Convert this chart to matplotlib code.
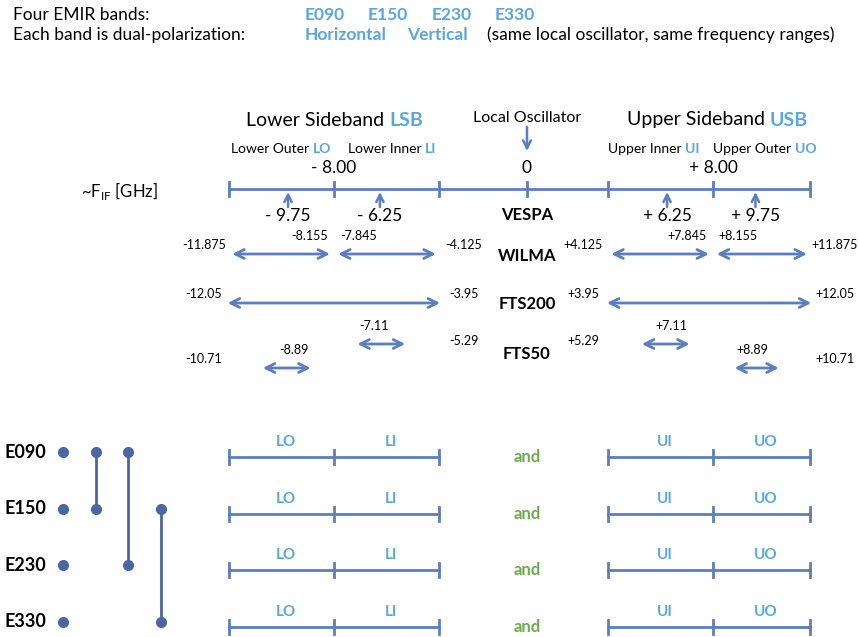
import matplotlib.pyplot as plt
import matplotlib.transforms as mtransforms
import numpy as np

# frequencies in GHz (IF offset from the local oscillator)
bands = ['E090', 'E150', 'E230', 'E330']
band_pairs = [('E090', 'E150'), ('E090', 'E230'), ('E150', 'E330')]
axis_ticks = [-12, -8, -4, 0, 4, 8, 12]
vespa_centers = [-9.75, -6.25, 6.25, 9.75]
wilma = [(-11.875, -8.155), (-7.845, -4.125), (4.125, 7.845), (8.155, 11.875)]
fts200 = [(-12.05, -3.95), (3.95, 12.05)]
fts50 = [(-10.71, -8.89), (-7.11, -5.29), (5.29, 7.11), (8.89, 10.71)]
sub_lower = ['LO', 'LI']
sub_upper = ['UI', 'UO']

W, H = 858, 637
LINE = '#5A7EC0'
DOT = '#4A66A3'
LIGHT = '#58A6E4'
GREEN = '#6AAE4C'
plt.rcParams['font.family'] = ['Lato', 'DejaVu Sans']

# the drawing is not to scale: 4..12 GHz stretched, the gap round the LO squeezed
knot_f = [-40, -12, -8, -4, 0, 4, 8, 12, 40]
knot_p = [229 - 28 * 26.25, 229, 334, 439, 527, 608, 713, 810, 810 + 28 * 24.25]
def fwd(f):
    return np.interp(f, knot_f, knot_p)
def inv(p):
    return np.interp(p, knot_p, knot_f)

fig = plt.figure(figsize=(W / 100, H / 100), dpi=100)
ax = fig.add_axes([0, 0, 1, 1])
ax.set_xscale('function', functions=(fwd, inv))
ax.set_xlim(inv(0), inv(W))
ax.set_ylim(H, 0)
ax.axis('off')
px = mtransforms.Affine2D().scale(1 / W, -1 / H).translate(0, 1) + fig.transFigure

# header
hs = 12.5
ax.text(13, 15, 'Four EMIR bands:', transform=px, fontsize=hs, va='center')
for b, x in zip(bands, [305, 368, 432, 495]):
    ax.text(x, 15, b, transform=px, fontsize=hs, va='center', color=LIGHT, fontweight='bold')
ax.text(13, 35, 'Each band is dual-polarization:', transform=px, fontsize=hs, va='center')
ax.text(305, 35, 'Horizontal', transform=px, fontsize=hs, va='center', color=LIGHT, fontweight='bold')
ax.text(407, 35, 'Vertical', transform=px, fontsize=hs, va='center', color=LIGHT, fontweight='bold')
ax.text(487, 35, '(same local oscillator, same frequency ranges)', transform=px, fontsize=hs, va='center')

# sideband titles (x = pixel where the coloured part starts)
def two_tone(x, y, a, b, size):
    ax.text(x, y, a, transform=px, fontsize=size, ha='right', va='center')
    ax.text(x, y, b, transform=px, fontsize=size, ha='left', va='center', color=LIGHT, fontweight='bold')

two_tone(389, 120, 'Lower Sideband ', 'LSB', 14)
two_tone(770, 120, 'Upper Sideband ', 'USB', 14)
ax.text(0, 118, 'Local Oscillator', fontsize=11.5, ha='center', va='center')
ax.annotate('', xy=(0, 151), xytext=(0, 127),
            arrowprops=dict(arrowstyle='->', color=LINE, lw=1.8, mutation_scale=14, shrinkA=0, shrinkB=0))
two_tone(313, 149, 'Lower Outer ', 'LO', 10)
two_tone(425, 149, 'Lower Inner ', 'LI', 10)
two_tone(685, 149, 'Upper Inner ', 'UI', 10)
two_tone(795, 149, 'Upper Outer ', 'UO', 10)

# IF axis
ax.plot([axis_ticks[0], axis_ticks[-1]], [189, 189], color=LINE, lw=2)
for t in axis_ticks:
    ax.plot([t, t], [182, 196], color=LINE, lw=2)
ax.text(-8, 168, '- 8.00', fontsize=12.5, ha='center', va='center')
ax.text(0, 168, '0', fontsize=12.5, ha='center', va='center')
ax.text(8, 168, '+ 8.00', fontsize=12.5, ha='center', va='center')
ax.text(158, 191, r'~F$_\mathregular{IF}$ [GHz]', transform=px, fontsize=12, ha='right', va='center')

# VESPA
for c in vespa_centers:
    ax.annotate('', xy=(c, 192), xytext=(c, 207),
                arrowprops=dict(arrowstyle='->', color=LINE, lw=1.8, mutation_scale=13, shrinkA=0, shrinkB=0))
    ax.text(c, 216, ('- ' if c < 0 else '+ ') + '%.2f' % abs(c), fontsize=12.5, ha='center', va='center')
ax.text(0, 215, 'VESPA', fontsize=12, ha='center', va='center', fontweight='bold')

def fmt(v):
    s = ('%.3f' % v).rstrip('0')
    if len(s.split('.')[1]) < 2:
        s = '%.2f' % v
    return ('+' if v > 0 else '') + s

def backend(name, ranges, y, name_y):
    ax.text(0, name_y, name, fontsize=12, ha='center', va='center', fontweight='bold')
    for lo, hi in ranges:
        yy = y
        if name == 'FTS50' and abs(lo + hi) / 2 > 8:
            yy = y + 24
        ax.annotate('', xy=(hi, yy), xytext=(lo, yy),
                    arrowprops=dict(arrowstyle='<->', color=LINE, lw=2, mutation_scale=16, shrinkA=0, shrinkB=0))
        for v, end in ((lo, 'lo'), (hi, 'hi')):
            a = abs(v)
            if a > 10.5 or a < 5.5:
                edge = np.sign(v) * (12 if a > 10.5 else 4)
                out = np.sign(edge) * (1 if a > 10.5 else -1)
                dy = 3 if (name == 'FTS50' and a < 5.5) else 9
                ax.annotate(fmt(v), xy=(edge, yy), xytext=(out * 25, dy), textcoords='offset pixels',
                            fontsize=9, ha='center', va='center')
            else:
                ax.annotate(fmt(v), xy=(v, yy), xytext=(-2 if end == 'hi' else 2, 18),
                            textcoords='offset pixels', fontsize=9,
                            ha='right' if end == 'hi' else 'left', va='center')

backend('WILMA', wilma, 254, 256)
backend('FTS200', fts200, 303, 304)
backend('FTS50', fts50, 344, 354)

# band combinations
cols = [63, 96, 128, 161]
rows = {b: 452 + 56.6 * i for i, b in enumerate(bands)}
for b in bands:
    ax.text(5, rows[b], b, transform=px, fontsize=13, fontweight='bold', va='center')
    ax.plot(cols[0], rows[b], 'o', color=DOT, ms=7, transform=px)
for j, (a, b) in enumerate(band_pairs):
    ax.plot([cols[j + 1]] * 2, [rows[a], rows[b]], '-o', color=DOT, ms=7, lw=2, transform=px)

for i, b in enumerate(bands):
    y = rows[b] + 5
    for side, labels in ((-1, sub_lower), (1, sub_upper)):
        edges = sorted([side * 12, side * 8, side * 4])
        ax.plot([edges[0], edges[-1]], [y, y], color=LINE, lw=2)
        for e in edges:
            ax.plot([e, e], [y - 7, y + 7], color=LINE, lw=2)
        for k, lab in enumerate(labels):
            mid = inv((fwd(edges[k]) + fwd(edges[k + 1])) / 2 + 4)
            ax.text(mid, y - 15, lab, fontsize=11, ha='center', va='center', color=LIGHT, fontweight='bold')
    ax.text(0, y, 'and', fontsize=12, ha='center', va='center', color=GREEN, fontweight='bold')

fig.savefig('out.png', dpi=100)
